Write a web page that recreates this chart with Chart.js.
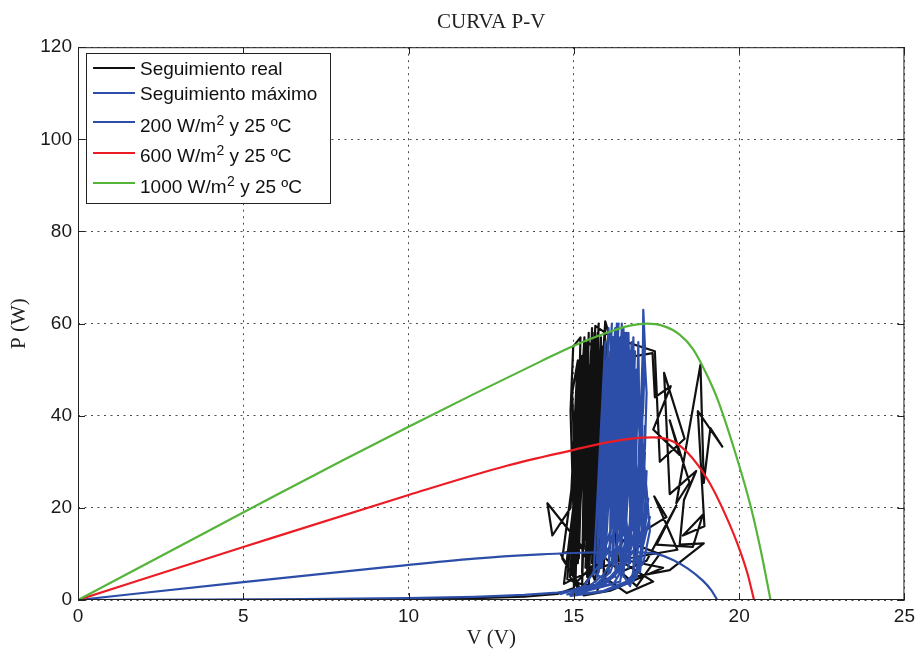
<!DOCTYPE html>
<html>
<head>
<meta charset="utf-8">
<title>CURVA P-V</title>
<script src="https://cdn.jsdelivr.net/npm/chart.js@4.4.1/dist/chart.umd.min.js"></script>
<style>
    html, body { margin: 0; padding: 0; background: #fff; }
</style>
</head>
<body>
<canvas id="graficoPV" width="920" height="654"></canvas>
<script>
// =====================
// Datos
// =====================
const ticksV = [0, 5, 10, 15, 20, 25];
const ticksP = [0, 20, 40, 60, 80, 100, 120];

// Curvas P-V teóricas (V en voltios, P en vatios)
const v1000 = [0, 2, 4, 6, 8, 10, 12, 14, 15, 16, 16.6, 17.2, 17.7, 18.2, 18.6, 19, 19.35, 19.95, 20.35, 20.65, 20.95];
const p1000 = [0, 7.6, 15.2, 22.8, 30.3, 37.6, 44.8, 51.8, 55.2, 58.0, 59.4, 60.0, 59.5, 57.6, 54.5, 49.2, 43.5, 30.4, 20.3, 10.9, 0];

const v600 = [0, 5, 10, 13, 15, 16, 16.8, 17.4, 18, 18.45, 19.05, 19.45, 19.95, 20.25, 20.45];
const p600 = [0, 11.5, 22.8, 29.2, 32.6, 34.2, 35.1, 35.3, 34.4, 31.9, 26.1, 20.6, 12.2, 5.8, 0];

const v200 = [0, 5, 9.4, 12, 14, 15, 16, 16.8, 17.5, 18, 18.45, 18.9, 19.15, 19.34];
const p200 = [0, 3.9, 7.2, 9.0, 9.9, 10.2, 10.4, 10.4, 10.0, 8.7, 6.8, 4.2, 2.2, 0];

// Seguimiento real [V, P]
const seguimientoReal = [
    [0, 0], [4, 0], [8, 0.1], [10, 0.2], [12, 0.4], [13.5, 0.7], [14.5, 1.3], [15.0, 2.6],
    [15.05, 28], [14.95, 6], [15.15, 46], [15.05, 4], [15.25, 53], [15.15, 9], [15.35, 56], [15.25, 3],
    [15.45, 58], [15.3, 11], [15.55, 59], [15.4, 5], [15.65, 57], [15.45, 3], [15.75, 60], [15.55, 8],
    [15.85, 55], [15.6, 14], [15.95, 59], [15.65, 4],
    [15.2, 12], [14.2, 21], [14.35, 14], [14.9, 20], [15.1, 50], [15.0, 16], [14.9, 41], [14.98, 55], [15.2, 57],
    [15.08, 21], [15.38, 49], [15.28, 18], [15.52, 54], [15.38, 23], [15.72, 58], [15.52, 13], [15.82, 51],
    [15.58, 21], [15.92, 56], [15.78, 9], [15.1, 4], [14.65, 9], [15.15, 36], [15.32, 57], [15.18, 26],
    [15.48, 51], [15.42, 29], [15.68, 55], [15.58, 31], [16.05, 58], [15.95, 60.5], [15.78, 41], [15.88, 13],
    [15.48, 5], [15.18, 2], [14.88, 5], [15.28, 43], [15.42, 56],
    [16.1, 52], [17.38, 53.6], [17.45, 44], [17.93, 46.4], [17.4, 37], [18.2, 31.5], [17.9, 39], [18.5, 25.5],
    [18.1, 21], [18.83, 51.1], [18.93, 25.4], [19.13, 37.3], [19.49, 33.3], [18.75, 41], [18.95, 16], [18.3, 14],
    [18.9, 18.5], [18.6, 11.5], [17.5, 12], [18.1, 20.5], [17.2, 8.5], [16.4, 6],
    [15.62, 47], [15.5, 10], [15.75, 53], [15.35, 7], [15.62, 58], [15.5, 20], [15.82, 57], [15.7, 6],
    [15.98, 52], [15.85, 17], [16.02, 55], [15.9, 3], [15.2, 3.5], [14.8, 4.5], [15.1, 30], [15.02, 10],
    [15.22, 48], [15.12, 8], [15.42, 55], [15.32, 13], [15.65, 59.5],
    [16.15, 57], [17.45, 54], [17.6, 30], [18.35, 35], [17.73, 49.3], [17.9, 23], [18.7, 28], [18.33, 21.7],
    [18.2, 12], [18.93, 12.3], [17.9, 6.5], [16.8, 5], [16.9, 14], [17.8, 18], [17.43, 22.5], [18.13, 10.9], [16.6, 9],
    [15.4, 6], [14.7, 3.5], [15.05, 24], [14.95, 45], [15.12, 52], [15.02, 12], [15.35, 47], [15.25, 6],
    [15.55, 56], [15.45, 15], [15.7, 52], [15.6, 7], [15.92, 57], [15.8, 25], [16.0, 45], [15.9, 5],
    [16.6, 1.5], [17.4, 4], [16.3, 9], [17.7, 7], [16.1, 2], [15.3, 1], [14.6, 10], [15.5, 12],
    [16.9, 3], [17.6, 10], [16.5, 13], [15.7, 2]
];

// Seguimiento máximo [V, P]
const seguimientoMaximo = [
    [0, 0], [6, 0.15], [10, 0.4], [12, 0.7], [13.5, 1.1], [14.5, 1.6], [15.2, 2.3], [15.8, 3.6],
    [16.2, 5.5], [16.5, 9], [16.75, 16], [16.95, 28], [17.1, 42], [17.15, 55], [17.1, 63], [17.05, 25],
    [16.9, 50], [16.7, 8],
    [16.1, 58], [16.2, 12], [16.3, 60], [16.4, 14], [16.5, 59], [16.55, 18], [16.6, 58], [16.7, 20],
    [16.8, 57], [16.85, 24], [16.95, 56], [17.0, 30], [16.4, 4], [15.6, 2.5], [14.8, 1.2],
    [15.6, 3], [16.1, 6], [16.4, 12], [16.6, 24], [16.75, 40], [16.8, 55], [16.05, 45], [16.0, 20],
    [16.15, 57], [16.1, 15], [16.25, 58], [16.2, 10], [16.35, 56], [16.3, 8], [16.45, 60], [16.4, 22],
    [16.55, 57], [16.5, 14], [16.65, 55], [16.6, 26], [16.75, 50], [16.7, 12], [16.85, 45], [16.9, 18],
    [17.05, 35], [17.2, 24], [17.3, 15], [17.1, 8], [16.6, 4], [15.9, 2], [15.0, 1],
    [15.7, 2.8], [16.2, 5], [16.5, 8.5], [16.8, 14], [17.0, 22], [17.15, 33], [17.2, 45], [17.1, 58],
    [16.9, 12], [16.2, 3.5], [15.4, 2],
    [16.0, 4.2], [16.35, 7], [16.6, 11.5], [16.8, 18], [16.95, 27], [17.0, 40], [16.5, 55], [16.0, 30],
    [15.95, 52], [16.05, 25], [16.1, 50], [16.15, 28], [16.25, 54], [16.3, 30], [16.4, 55], [16.45, 35],
    [16.55, 52], [16.6, 38], [16.7, 54], [16.75, 36], [16.85, 50], [16.9, 42],
    [16.2, 38], [16.05, 42], [15.85, 8], [15.95, 30], [15.75, 6], [16.0, 16], [15.7, 5], [16.3, 20],
    [16.2, 46], [16.4, 30], [16.5, 48], [16.7, 30], [16.6, 46], [16.8, 28], [16.0, 10], [15.3, 3], [14.6, 1.3],
    [15.5, 3.2], [15.9, 5.5], [16.2, 9], [16.45, 16], [16.6, 28], [16.7, 44], [16.65, 58], [16.35, 40],
    [16.25, 15], [16.45, 46], [16.4, 9], [16.9, 20], [17.2, 18], [16.9, 5], [16.3, 2.6],
    [15.6, 6], [15.95, 56], [15.7, 8], [16.05, 59], [15.8, 10], [16.15, 60], [15.85, 7], [16.25, 59],
    [15.95, 9], [16.35, 60], [16.05, 6], [16.45, 59], [16.15, 8], [16.55, 58], [16.25, 5], [16.65, 57],
    [16.4, 6], [16.75, 56], [16.5, 5], [16.85, 54], [16.65, 7], [16.95, 50], [16.8, 6], [17.05, 42],
    [16.9, 8], [17.15, 32], [17.0, 6], [17.25, 22], [16.7, 3],
    [15.75, 14], [16.0, 48], [15.8, 20], [16.1, 54], [15.9, 18], [16.2, 57], [16.0, 15], [16.3, 58],
    [16.1, 20], [16.4, 57], [16.2, 18], [16.5, 56], [16.3, 22], [16.6, 55], [16.4, 20], [16.7, 53],
    [16.55, 22], [16.8, 50], [16.7, 25], [16.9, 45], [16.8, 15], [17.05, 38], [16.95, 14], [17.2, 28],
    [17.1, 12], [17.3, 18], [16.8, 4], [15.9, 1.8], [14.9, 0.9],
    [15.5, 2.2], [16.0, 3.8], [16.4, 6.5], [16.7, 10.5], [16.95, 17], [17.1, 26], [17.15, 38]
];

const NEGRO = "#111111";
const AZUL = "#2d4ea8";
const ROJO = "#ec1c24";
const VERDE = "#55b43a";

const aPuntos = (vs, ps) => vs.map((v, i) => ({ x: v, y: ps[i] }));
const dePares = pares => pares.map(([v, p]) => ({ x: v, y: p }));

function serie(label, data, color, orden, suave) {
    return {
        label: label,
        data: data,
        borderColor: color,
        backgroundColor: color,
        borderWidth: 2.2,
        pointRadius: 0,
        showLine: true,
        tension: suave ? 0.4 : 0,
        cubicInterpolationMode: suave ? "monotone" : "default",
        borderJoinStyle: "round",
        fill: false,
        order: orden
    };
}

// =====================
// Marco estilo MATLAB: caja, marcas interiores
// =====================
const marcoEjes = {
    id: "marcoEjes",
    afterDatasetsDraw(chart) {
        const { ctx, chartArea: a, scales } = chart;
        ctx.save();
        ctx.strokeStyle = "#222";
        ctx.lineWidth = 1;
        ctx.strokeRect(a.left + 0.5, a.top + 0.5, a.right - a.left - 1, a.bottom - a.top - 1);
        ctx.beginPath();
        ticksV.forEach(v => {
            const x = Math.round(scales.x.getPixelForValue(v)) + 0.5;
            ctx.moveTo(x, a.bottom); ctx.lineTo(x, a.bottom - 7);
            ctx.moveTo(x, a.top); ctx.lineTo(x, a.top + 7);
        });
        ticksP.forEach(p => {
            const y = Math.round(scales.y.getPixelForValue(p)) + 0.5;
            ctx.moveTo(a.left, y); ctx.lineTo(a.left + 7, y);
            ctx.moveTo(a.right, y); ctx.lineTo(a.right - 7, y);
        });
        ctx.stroke();
        ctx.restore();
    }
};

// Leyenda con superíndice
const leyenda = {
    id: "leyenda",
    afterDraw(chart) {
        const ctx = chart.ctx;
        const yLinea = [68, 93, 122, 153, 183];
        const yTexto = [70, 95, 127, 157, 188];
        ctx.save();
        ctx.fillStyle = "#fff";
        ctx.fillRect(86, 53, 244, 150);
        ctx.strokeStyle = "#222";
        ctx.lineWidth = 1;
        ctx.strokeRect(86.5, 53.5, 244, 150);
        chart.data.datasets.forEach((ds, i) => {
            ctx.strokeStyle = ds.borderColor;
            ctx.lineWidth = 2;
            ctx.beginPath();
            ctx.moveTo(93, yLinea[i]);
            ctx.lineTo(135, yLinea[i]);
            ctx.stroke();

            ctx.fillStyle = "#111";
            ctx.textBaseline = "middle";
            ctx.textAlign = "left";
            const partes = ds.label.split("²");
            let x = 140;
            ctx.font = "19px 'Liberation Sans', Arial, sans-serif";
            ctx.fillText(partes[0], x, yTexto[i]);
            if (partes.length > 1) {
                x += ctx.measureText(partes[0]).width;
                ctx.font = "14px 'Liberation Sans', Arial, sans-serif";
                ctx.fillText("2", x + 0.5, yTexto[i] - 6);
                x += ctx.measureText("2").width + 0.5;
                ctx.font = "19px 'Liberation Sans', Arial, sans-serif";
                ctx.fillText(partes[1], x, yTexto[i]);
            }
        });
        ctx.restore();
    }
};

const ctx = document.getElementById("graficoPV").getContext("2d");
new Chart(ctx, {
    type: "scatter",
    data: {
        datasets: [
            serie("Seguimiento real", dePares(seguimientoReal), NEGRO, 4, false),
            serie("Seguimiento máximo", dePares(seguimientoMaximo), AZUL, 3, false),
            serie("200 W/m² y 25 ºC", aPuntos(v200, p200), AZUL, 2, true),
            serie("600 W/m² y 25 ºC", aPuntos(v600, p600), ROJO, 1, true),
            serie("1000 W/m² y 25 ºC", aPuntos(v1000, p1000), VERDE, 0, true)
        ]
    },
    options: {
        responsive: false,
        animation: false,
        layout: { padding: { left: 0, right: 12, top: 0, bottom: 0 } },
        plugins: {
            legend: { display: false },
            tooltip: { enabled: false },
            title: {
                display: true,
                text: "CURVA P-V",
                fullSize: false,
                color: "#222",
                font: { family: "'Liberation Serif', 'Times New Roman', serif", size: 21, weight: "normal" },
                padding: { top: 10, bottom: 12 }
            }
        },
        scales: {
            x: {
                type: "linear",
                min: 0,
                max: 25,
                afterFit: s => { s.height = 54; },
                afterBuildTicks: s => { s.ticks = ticksV.map(v => ({ value: v })); },
                ticks: {
                    color: "#1a1a1a",
                    padding: 5,
                    font: { family: "'Liberation Sans', Arial, sans-serif", size: 19 }
                },
                grid: { color: "rgba(0,0,0,0.7)", lineWidth: 1, drawTicks: false },
                border: { display: false, dash: [2, 4.5] },
                title: {
                    display: true,
                    text: "V (V)",
                    color: "#222",
                    font: { family: "'Liberation Serif', 'Times New Roman', serif", size: 21 },
                    padding: { top: 0, bottom: 3 }
                }
            },
            y: {
                type: "linear",
                min: 0,
                max: 120,
                afterFit: s => { s.width = 78; },
                afterBuildTicks: s => { s.ticks = ticksP.map(p => ({ value: p })); },
                ticks: {
                    color: "#1a1a1a",
                    padding: 6,
                    font: { family: "'Liberation Sans', Arial, sans-serif", size: 19 }
                },
                grid: { color: "rgba(0,0,0,0.7)", lineWidth: 1, drawTicks: false },
                border: { display: false, dash: [2, 4.5] },
                title: {
                    display: true,
                    text: "P (W)",
                    color: "#222",
                    font: { family: "'Liberation Serif', 'Times New Roman', serif", size: 21 },
                    padding: { top: 7, bottom: 0 }
                }
            }
        }
    },
    plugins: [marcoEjes, leyenda]
});
</script>
</body>
</html>
